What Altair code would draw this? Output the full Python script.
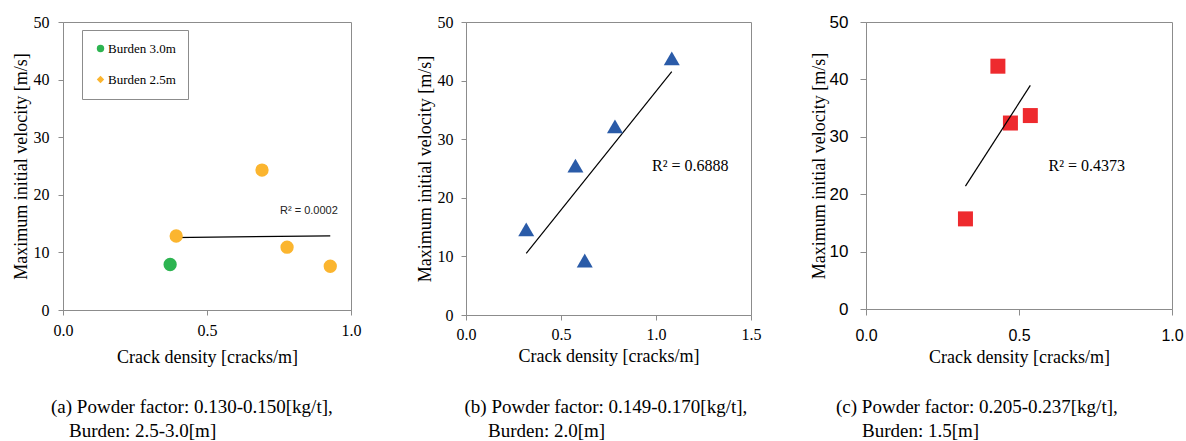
import altair as alt
import pandas as pd

# ---------------- data ----------------
# (a) Powder factor 0.130-0.150
a_series = ["Burden 3.0m", "Burden 2.5m"]
a_x_b30 = [0.372]
a_y_b30 = [7.9]
a_x_b25 = [0.393, 0.691, 0.778, 0.928]
a_y_b25 = [12.85, 24.3, 10.9, 7.6]
# (b) Powder factor 0.149-0.170
b_x = [0.317, 0.576, 0.625, 0.784, 1.083]
b_y = [14.6, 25.5, 9.3, 32.2, 43.8]
# (c) Powder factor 0.205-0.237
c_x = [0.325, 0.431, 0.472, 0.537]
c_y = [15.7, 42.3, 32.4, 33.7]

r2_labels = ["R² = 0.0002", "R² = 0.6888", "R² = 0.4373"]
captions = [
    ["(a) Powder factor: 0.130-0.150[kg/t],", "Burden: 2.5-3.0[m]"],
    ["(b) Powder factor: 0.149-0.170[kg/t],", "Burden: 2.0[m]"],
    ["(c) Powder factor: 0.205-0.237[kg/t],", "Burden: 1.5[m]"],
]
x_title = "Crack density [cracks/m]"
y_title = "Maximum initial velocity [m/s]"
y_ticks = [0, 10, 20, 30, 40, 50]
x_ticks_a = [0, 0.5, 1.0]
x_ticks_b = [0, 0.5, 1.0, 1.5]
x_ticks_c = [0, 0.5, 1.0]

SERIF = "Liberation Serif"
SANS = "Liberation Sans"
GRAY = "#8c8c8c"

df_a = pd.DataFrame({
    "x": a_x_b30 + a_x_b25,
    "y": a_y_b30 + a_y_b25,
    "s": [a_series[0]] * len(a_x_b30) + [a_series[1]] * len(a_x_b25),
})
df_b = pd.DataFrame({"x": b_x, "y": b_y})
df_c = pd.DataFrame({"x": c_x, "y": c_y})


def x_enc(domain, ticks, font, size, lpad, tpad, tsize):
    return alt.X("x:Q", scale=alt.Scale(domain=domain, nice=False, zero=False),
                 axis=alt.Axis(values=ticks, format=".1f", title=x_title,
                               labelFont=font, labelFontSize=size, labelPadding=lpad,
                               tickSize=tsize, titleFont=SERIF, titleFontSize=18,
                               titlePadding=tpad, labelFlush=False))


def y_enc(font, size, lpad, tpad, tsize):
    return alt.Y("y:Q", scale=alt.Scale(domain=[0, 50], nice=False),
                 axis=alt.Axis(values=y_ticks, format="d", title=y_title,
                               labelFont=font, labelFontSize=size, labelPadding=lpad,
                               tickSize=tsize, titleFont=SERIF, titleFontSize=18,
                               titlePadding=tpad, labelFlush=False))


def text_layer(txt, x, y, font, size, baseline="middle", color="#000"):
    return alt.Chart(pd.DataFrame({"t": [txt]})).mark_text(
        align="left", baseline=baseline, font=font, fontSize=size, color=color
    ).encode(text="t:N", x=alt.value(x), y=alt.value(y))


def caption_layers(cap, x1, x2):
    return [text_layer(cap[0], x1, 391, SERIF, 19, "alphabetic"),
            text_layer(cap[1], x2, 415, SERIF, 19, "alphabetic")]


# ---------------- panel (a) ----------------
XA = x_enc([0, 1], x_ticks_a, SERIF, 16, 7, 10, 5)
YA = y_enc(SERIF, 16, 9, 3, 5)
cscale = alt.Scale(domain=a_series, range=["#2DB451", "#FBB52F"])
sscale = alt.Scale(domain=a_series, range=["circle", "diamond"])
leg = alt.Legend(title=None, orient="none", legendX=19, legendY=8,
                 strokeColor=GRAY, fillColor="white", padding=12, rowPadding=17,
                 labelFont=SERIF, labelFontSize=13, labelColor="#000",
                 symbolSize=55, symbolStrokeWidth=0, labelOffset=1)
base_a = alt.Chart(df_a)
hidden_a = base_a.mark_point(filled=True, size=40, opacity=1).encode(
    x=XA, y=YA,
    color=alt.Color("s:N", scale=cscale, legend=leg),
    shape=alt.Shape("s:N", scale=sscale, legend=leg))
pts_a = base_a.mark_circle(size=177, opacity=1).encode(
    x=XA, y=YA, color=alt.Color("s:N", scale=cscale, legend=None))
fit_a = base_a.transform_regression("x", "y").mark_line(
    color="#000", strokeWidth=1.2).encode(x=XA, y=YA)
panel_a = alt.layer(
    hidden_a, fit_a, pts_a,
    text_layer(r2_labels[0], 217, 189, SANS, 11, color="#222"),
    *caption_layers(captions[0], -12, 6),
).properties(width=288, height=288)

# ---------------- panel (b) ----------------
XB = x_enc([0, 1.5], x_ticks_b, SERIF, 16, 6, 5, 5)
YB = y_enc(SERIF, 16, 8, 3, 5)
base_b = alt.Chart(df_b)
pts_b = base_b.mark_point(shape="triangle-up", filled=True, size=256, opacity=1,
                          color="#2A5BA8").encode(x=XB, y=YB)
fit_b = base_b.transform_regression("x", "y").mark_line(
    color="#000", strokeWidth=1.2).encode(x=XB, y=YB)
panel_b = alt.layer(
    fit_b, pts_b,
    text_layer(r2_labels[1], 186, 144, SERIF, 16),
    *caption_layers(captions[1], -1.5, 22),
).properties(width=285, height=293)

# ---------------- panel (c) ----------------
XC = x_enc([0, 1], x_ticks_c, SANS, 16, 12, 5, 6)
YC = y_enc(SANS, 17, 12, 1, 6)
base_c = alt.Chart(df_c)
pts_c = base_c.mark_square(size=225, opacity=1, color="#EE2A2E").encode(x=XC, y=YC)
fit_c = base_c.transform_regression("x", "y").mark_line(
    color="#000", strokeWidth=1.2).encode(x=XC, y=YC)
panel_c = alt.layer(
    pts_c, fit_c,
    text_layer(r2_labels[2], 182.6, 144, SERIF, 16),
    *caption_layers(captions[2], -30, -4),
).properties(width=306, height=287)

chart = alt.hconcat(
    panel_a, panel_b, panel_c, spacing=115, bounds="flush",
    padding={"left": 11, "top": 12, "right": 0, "bottom": 0},
    background="white",
).configure_view(
    stroke=GRAY, strokeWidth=1
).configure_axis(
    domainColor=GRAY, tickColor=GRAY, grid=False, labelColor="#000",
    titleColor="#000", titleFontWeight="normal"
)

chart.save("out.html", embed_options={"renderer": "svg", "actions": False})
